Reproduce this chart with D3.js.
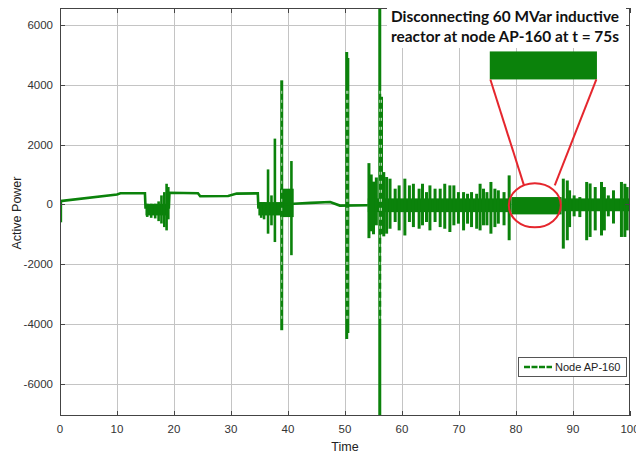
<!DOCTYPE html>
<html>
<head>
<meta charset="utf-8">
<script src="https://cdn.jsdelivr.net/npm/d3@7"></script>
<style>
body { margin: 0; background: #fff; }
svg { display: block; }
</style>
</head>
<body>
<div class="container"></div>
<script>
'use strict';

// axis ticks
var timeTicks = [0, 10, 20, 30, 40, 50, 60, 70, 80, 90, 100];
var powerTicks = [-6000, -4000, -2000, 0, 2000, 4000, 6000];

// slow part of the signal (time, active power)
var baseTime  = [0, 10, 10.6, 14.9, 15.0, 19.1, 19.2, 24.2, 24.6, 29.5, 31.0, 34.7, 34.8, 41.0, 44.0, 47.4, 49.1, 54.0];
var basePower = [110, 330, 370, 370, -100, -100, 390, 370, 270, 280, 360, 370, -100, 20, 50, 80, -40, -30];

// dense oscillation blocks: start, end, upper and lower envelope
var bandStart  = [15.0, 34.8, 38.6, 54.0, 79.2, 88.0];
var bandEnd    = [19.1, 38.6, 41.0, 79.2, 88.0, 100];
var bandTop    = [20, 77, 525, 200, 245, 200];
var bandBottom = [-370, -370, -425, -260, -335, -230];

// single swings: time, peak, trough
var spikeTime = [0.15, 15.3, 16.0, 16.7, 17.3, 17.8, 18.3, 18.7, 19.0,
  35.3, 35.8, 36.5, 37.1, 37.7, 38.9, 40.6, 50.3, 50.5,
  54.2, 54.6, 55.0, 55.5, 56.1, 56.4, 56.8, 57.3, 57.9, 58.8, 59.5, 60.5,
  61.3, 62.0, 63.0, 63.6, 64.3, 64.9, 65.8, 66.7, 67.5, 68.4, 69.1, 69.9,
  70.8, 71.5, 72.2, 73.1, 73.7, 74.3, 74.9, 75.6, 76.3, 76.9, 77.9, 78.8,
  88.3, 89.0, 89.4, 90.2, 91.2, 92.4, 93.0, 93.9, 95.0, 95.5, 96.2, 97.1,
  98.5, 99.1, 99.5];
var spikeTop = [110, 20, 20, 20, 100, 300, 410, 690, 580,
  77, 77, 1170, 300, 2200, 4150, 1450, 5100, 4900,
  1380, 1000, 760, 900, 7000, 3600, 1080, 915, 860, 525, 635, 860,
  635, 690, 525, 690, 410, 635, 525, 525, 690, 635, 635, 410,
  410, 355, 410, 355, 690, 525, 410, 750, 525, 470, 410, 970,
  860, 800, 470, 300, 245, 750, 700, 580, 750, 580, 300, 470,
  750, 690, 580];
var spikeBottom = [-600, -420, -450, -470, -560, -640, -760, -870, -500,
  -450, -500, -980, -700, -1260, -4210, -1700, -4500, -4300,
  -1130, -900, -1000, -700, -7500, -1000, -1070, -980, -815, -590, -870, -1040,
  -590, -760, -815, -700, -590, -870, -590, -760, -815, -925, -700, -645,
  -870, -645, -760, -815, -870, -700, -700, -980, -760, -645, -700, -1200,
  -1480, -1200, -760, -400, -425, -1200, -1090, -870, -1040, -870, -400, -640,
  -1090, -1090, -870];

// zoom annotation, in data units
var insetTime  = [75.4, 94.2];
var insetPower = [4180, 5117];
var ringCenter = [83.3, -33];
var ringRadius = [4.56, 736];
var linkFrom   = [[75.5, 4180], [94.1, 4180]];
var linkTo     = [[81.4, 635], [86.8, 635]];
var noteLines  = ['Disconnecting 60 MVar inductive', 'reactor at node AP-160 at t = 75s'];

var W = 636, H = 456;
var m = {top: 8, right: 6, bottom: 40, left: 60};
var green = '#0b820b';
var red = '#e5262d';

var svg = d3.select('.container').append('svg')
  .attr('width', W)
  .attr('height', H)
  .style('font-family', '"Liberation Sans", Arial, sans-serif');

var x = d3.scaleLinear().domain([0, 100]).range([m.left, W - m.right]);
var y = d3.scaleLinear().domain([-7080, 6570]).range([H - m.bottom, m.top]);

svg.append('clipPath').attr('id', 'plot')
  .append('rect')
  .attr('x', m.left).attr('y', m.top)
  .attr('width', x(100) - m.left).attr('height', y(-7080) - m.top);

// grid
var grid = svg.append('g').attr('stroke', '#c4c4c4').attr('stroke-width', 1);
grid.selectAll('.gx').data(timeTicks.slice(1, -1)).enter().append('line')
  .attr('x1', function(d) { return Math.round(x(d)) + 0.5; })
  .attr('x2', function(d) { return Math.round(x(d)) + 0.5; })
  .attr('y1', m.top).attr('y2', y(-7080));
grid.selectAll('.gy').data(powerTicks).enter().append('line')
  .attr('y1', function(d) { return Math.round(y(d)) + 0.5; })
  .attr('y2', function(d) { return Math.round(y(d)) + 0.5; })
  .attr('x1', m.left).attr('x2', x(100));

var plot = svg.append('g').attr('clip-path', 'url(#plot)');

// blocks
plot.selectAll('.band').data(bandStart).enter().append('rect')
  .attr('x', function(d) { return x(d); })
  .attr('width', function(d, i) { return x(bandEnd[i]) - x(d); })
  .attr('y', function(d, i) { return y(bandTop[i]); })
  .attr('height', function(d, i) { return y(bandBottom[i]) - y(bandTop[i]); })
  .attr('fill', green);

// baseline
var line = d3.line()
  .x(function(d) { return x(d); })
  .y(function(d, i) { return y(basePower[i]); });
plot.append('path')
  .attr('d', line(baseTime))
  .attr('fill', 'none')
  .attr('stroke', green)
  .attr('stroke-width', 2.6);

// spikes
plot.selectAll('.spike').data(spikeTime).enter().append('line')
  .attr('x1', function(d) { return x(d); })
  .attr('x2', function(d) { return x(d); })
  .attr('y1', function(d, i) { return y(spikeTop[i]); })
  .attr('y2', function(d, i) { return y(spikeBottom[i]); })
  .attr('stroke', green)
  .attr('stroke-width', function(d, i) { return (spikeTop[i] > 3000 || d > 54) ? 3 : 2.6; });

// dashed centre of the tall swings
plot.selectAll('.gap').data(spikeTime.filter(function(d, i) { return spikeTop[i] > 3000; }))
  .enter().append('line')
  .attr('x1', function(d) { return x(d); })
  .attr('x2', function(d) { return x(d); })
  .attr('y1', y(3800))
  .attr('y2', y(-4000))
  .attr('stroke', '#fff')
  .attr('stroke-width', 0.7)
  .attr('stroke-dasharray', '3,6');

// box and ticks
var frame = svg.append('g').attr('stroke', '#444').attr('fill', 'none');
frame.append('rect')
  .attr('x', m.left + 0.5).attr('y', m.top + 0.5)
  .attr('width', x(100) - m.left - 1).attr('height', y(-7080) - m.top - 1);
frame.selectAll('.tb').data(timeTicks).enter().append('path')
  .attr('d', function(d) {
    var px = Math.round(x(d)) + 0.5;
    return 'M' + px + ',' + y(-7080) + 'v-5M' + px + ',' + m.top + 'v5';
  });
frame.selectAll('.tl').data(powerTicks).enter().append('path')
  .attr('d', function(d) {
    var py = Math.round(y(d)) + 0.5;
    return 'M' + m.left + ',' + py + 'h5M' + x(100) + ',' + py + 'h-5';
  });

// tick labels
svg.selectAll('.xl').data(timeTicks).enter().append('text')
  .attr('x', function(d) { return x(d); })
  .attr('y', y(-7080) + 17)
  .attr('text-anchor', 'middle')
  .attr('font-size', 11.5)
  .attr('fill', '#333')
  .text(function(d) { return String(d); });
svg.selectAll('.yl').data(powerTicks).enter().append('text')
  .attr('x', m.left - 7)
  .attr('y', function(d) { return y(d) + 4; })
  .attr('text-anchor', 'end')
  .attr('font-size', 11.5)
  .attr('fill', '#333')
  .text(function(d) { return String(d); });

svg.append('text')
  .attr('x', (m.left + x(100)) / 2)
  .attr('y', 451)
  .attr('text-anchor', 'middle')
  .attr('font-size', 12.5)
  .attr('fill', '#222')
  .text('Time');
svg.append('text')
  .attr('transform', 'translate(21,213) rotate(-90)')
  .attr('text-anchor', 'middle')
  .attr('font-size', 12.5)
  .attr('fill', '#222')
  .text('Active Power');

// annotation
svg.append('rect')
  .attr('x', 387).attr('y', 0)
  .attr('width', 239).attr('height', 48)
  .attr('fill', '#fff');
svg.selectAll('.note').data(noteLines).enter().append('text')
  .attr('x', 391)
  .attr('y', function(d, i) { return 22 + i * 20; })
  .attr('font-family', 'Lato, "Open Sans", sans-serif')
  .attr('font-weight', 'bold')
  .attr('font-size', 15)
  .attr('fill', '#111')
  .attr('textLength', 228)
  .attr('lengthAdjust', 'spacingAndGlyphs')
  .text(function(d) { return d; });

svg.append('rect')
  .attr('x', x(insetTime[0]))
  .attr('y', y(insetPower[1]))
  .attr('width', x(insetTime[1]) - x(insetTime[0]))
  .attr('height', y(insetPower[0]) - y(insetPower[1]))
  .attr('fill', green);

svg.selectAll('.link').data(linkFrom).enter().append('line')
  .attr('x1', function(d) { return x(d[0]); })
  .attr('y1', function(d) { return y(d[1]); })
  .attr('x2', function(d, i) { return x(linkTo[i][0]); })
  .attr('y2', function(d, i) { return y(linkTo[i][1]); })
  .attr('stroke', red)
  .attr('stroke-width', 2);

svg.append('ellipse')
  .attr('cx', x(ringCenter[0]))
  .attr('cy', y(ringCenter[1]))
  .attr('rx', x(ringRadius[0]) - x(0))
  .attr('ry', y(0) - y(ringRadius[1]))
  .attr('fill', 'none')
  .attr('stroke', red)
  .attr('stroke-width', 2);

// legend
var legend = svg.append('g').attr('transform', 'translate(518,357)');
legend.append('rect')
  .attr('x', 0.5).attr('y', 0.5)
  .attr('width', 108).attr('height', 19)
  .attr('fill', '#fff')
  .attr('stroke', '#555');
legend.append('line')
  .attr('x1', 6).attr('x2', 34)
  .attr('y1', 10).attr('y2', 10)
  .attr('stroke', green)
  .attr('stroke-width', 2.6)
  .attr('stroke-dasharray', '6,1.5');
legend.append('text')
  .attr('x', 37).attr('y', 14)
  .attr('font-size', 11)
  .attr('fill', '#222')
  .text('Node AP-160');
</script>
</body>
</html>
